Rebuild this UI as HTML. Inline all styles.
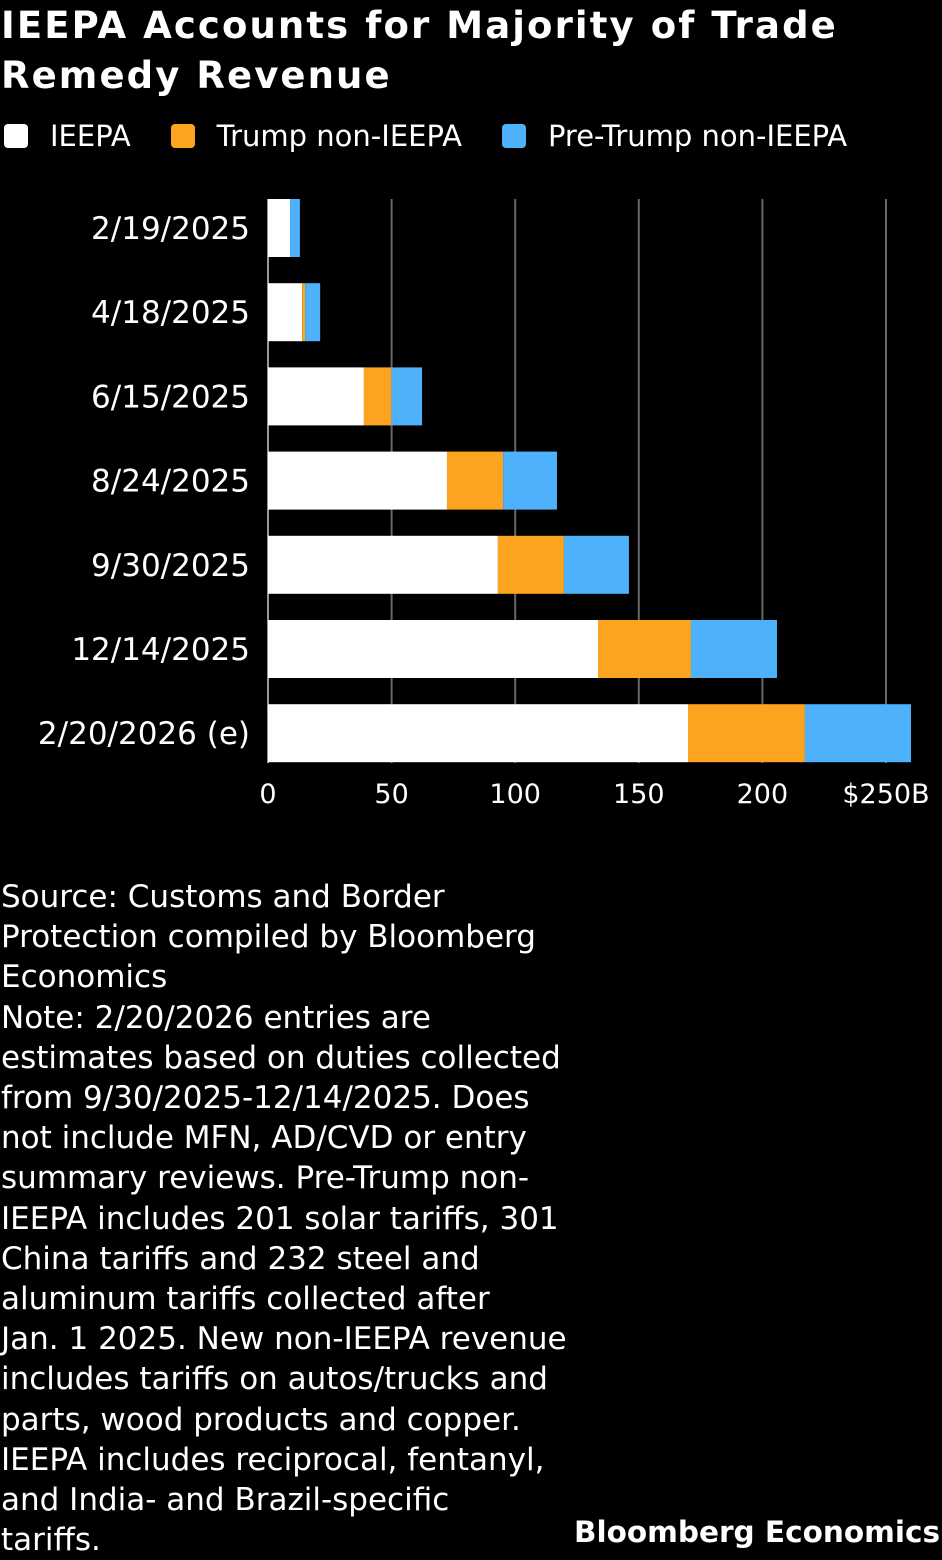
<!DOCTYPE html>
<html><head><meta charset="utf-8">
<style>
body{margin:0;background:#000;width:942px;height:1560px;overflow:hidden;font-family:"DejaVu Sans","Liberation Sans",sans-serif;color:#fff;position:relative}
.title{position:absolute;left:1px;top:1px;font-size:37px;font-weight:bold;line-height:50px;letter-spacing:2.1px;white-space:nowrap}
.legend{position:absolute;top:119px;left:4px;font-size:29px;display:flex;align-items:center;white-space:nowrap}
.sw{display:inline-block;width:24px;height:24px;border-radius:4px;margin-right:22px}
.li{display:flex;align-items:center;margin-right:40px}
.note{position:absolute;left:1px;top:877px;font-size:31px;line-height:40.2px;width:640px;white-space:nowrap}
.brand{position:absolute;right:2px;top:1515px;font-size:29.5px;font-weight:bold;white-space:nowrap}
</style></head><body>
<div class="title">IEEPA Accounts for Majority of Trade<br>Remedy Revenue</div>
<div class="legend">
<div class="li"><span class="sw" style="background:#fff"></span>IEEPA</div>
<div class="li"><span class="sw" style="background:#fca420"></span>Trump non-IEEPA</div>
<div class="li"><span class="sw" style="background:#4eb1fb"></span>Pre-Trump non-IEEPA</div>
</div>
<svg id="chart" width="942" height="830" style="position:absolute;left:0;top:0"></svg>
<div class="note">Source: Customs and Border<br>Protection compiled by Bloomberg<br>Economics<br>Note: 2/20/2026 entries are<br>estimates based on duties collected<br>from 9/30/2025-12/14/2025. Does<br>not include MFN, AD/CVD or entry<br>summary reviews. Pre-Trump non-<br>IEEPA includes 201 solar tariffs, 301<br>China tariffs and 232 steel and<br>aluminum tariffs collected after<br>Jan. 1 2025. New non-IEEPA revenue<br>includes tariffs on autos/trucks and<br>parts, wood products and copper.<br>IEEPA includes reciprocal, fentanyl,<br>and India- and Brazil-specific<br>tariffs.</div>
<div class="brand">Bloomberg Economics</div>
<script>
const categories=["2/19/2025","4/18/2025","6/15/2025","8/24/2025","9/30/2025","12/14/2025","2/20/2026 (e)"];
const ieepa=[8.9,13.8,38.8,72.4,93,133.5,169.9];
const trumpNon=[0,1.2,11.1,22.7,26.7,37.6,47.3];
const preTrump=[4.0,6.1,12.4,21.8,26.3,34.8,42.9];
const ticks=[0,50,100,150,200,250];
const tickLabels=["0","50","100","150","200","$250B"];
const colors=["#ffffff","#fca420","#4eb1fb"];
const NS="http://www.w3.org/2000/svg";
const svg=document.getElementById('chart');
const x=v=>268+v*(886-268)/250;
const yTop=i=>199+i*84.2;
const bh=58;
function mk(t,a){const e=document.createElementNS(NS,t);for(const k in a)e.setAttribute(k,a[k]);svg.appendChild(e);return e;}
ticks.forEach((t,i)=>{
 const l=mk('line',{x1:x(t),x2:x(t),y1:199,y2:763,stroke:i==0?'#999':'#666','stroke-width':2});
 
 
 const tx=mk('text',{x:x(t),y:803,'text-anchor':'middle','font-size':27,fill:'#fff','font-family':'DejaVu Sans, sans-serif'});
 tx.textContent=tickLabels[i];
 
 
});
const series=[ieepa,trumpNon,preTrump];
const names=['ieepa','trump-non-ieepa','pre-trump-non-ieepa'];
categories.forEach((c,i)=>{
 let acc=0;
 series.forEach((s,j)=>{
  const r=mk('rect',{x:x(acc),y:yTop(i),width:Math.max(0,x(acc+s[i])-x(acc)),height:bh,fill:colors[j]});
  
  
  acc+=s[i];
 });
 const t=mk('text',{x:250,y:yTop(i)+bh/2+11,'text-anchor':'end','font-size':31,fill:'#fff','font-family':'DejaVu Sans, sans-serif'});
 t.textContent=c;
 
 
});
</script>
</body></html>
